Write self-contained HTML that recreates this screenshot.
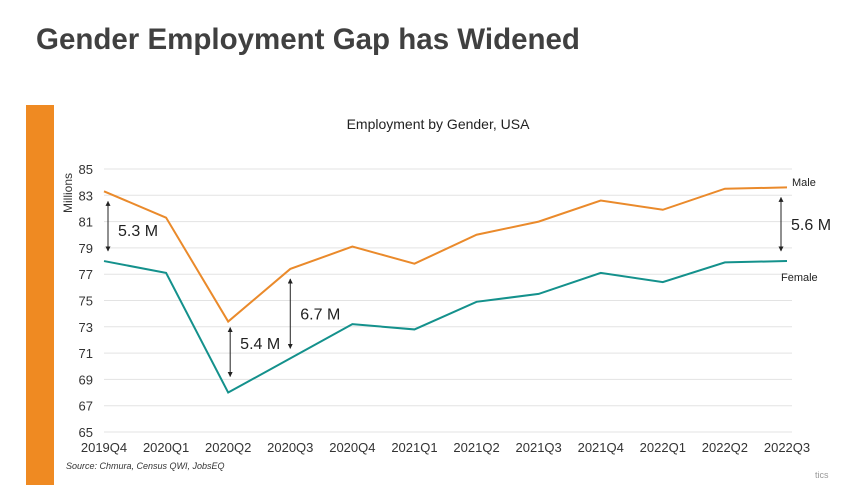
<!DOCTYPE html>
<html><head><meta charset="utf-8"><style>
body{margin:0;width:845px;height:485px;background:#fff;overflow:hidden;font-family:"Liberation Sans",sans-serif;position:relative}
#title{position:absolute;left:36px;top:23px;font-size:29.5px;font-weight:bold;color:#404040}
#bar{position:absolute;left:26px;top:105px;width:28px;height:380px;background:#ef8a22}
#src{position:absolute;left:66px;top:461px;font-size:9px;font-style:italic;color:#333}
#tics{position:absolute;left:815px;top:470px;font-size:9px;color:#999}
</style></head><body>
<div id="title">Gender Employment Gap has Widened</div>
<div id="bar"></div>
<div id="src">Source: Chmura, Census QWI, JobsEQ</div>
<div id="tics">tics</div>
<svg id="chart" width="845" height="485" style="position:absolute;left:0;top:0"></svg>
<script>
const categories=["2019Q4","2020Q1","2020Q2","2020Q3","2020Q4","2021Q1","2021Q2","2021Q3","2021Q4","2022Q1","2022Q2","2022Q3"];
const maleValues=[83.3,81.3,73.4,77.4,79.1,77.8,80.0,81.0,82.6,81.9,83.5,83.6];
const femaleValues=[78.0,77.1,68.0,70.6,73.2,72.8,74.9,75.5,77.1,76.4,77.9,78.0];
const yTicks=[65,67,69,71,73,75,77,79,81,83,85];
const gaps=[{i:0,label:"5.3 M"},{i:2,label:"5.4 M"},{i:3,label:"6.7 M"},{i:11,label:"5.6 M"}];
const svg=document.getElementById('chart');const NS="http://www.w3.org/2000/svg";
const x=i=>104+i*(787-104)/(categories.length-1);
const y=v=>432-(v-65)*(432-169)/20;
function mk(t,a,p){const e=document.createElementNS(NS,t);for(const k in a)e.setAttribute(k,a[k]);(p||svg).appendChild(e);return e;}
const defs=mk('defs',{});
const m=mk('marker',{id:'ah',viewBox:'0 0 10 10',refX:'9',refY:'5',markerWidth:'5',markerHeight:'5',orient:'auto-start-reverse'},defs);
mk('path',{d:'M0,0L10,5L0,10z',fill:'#222'},m);
let t=mk('text',{x:438,y:129,'font-size':14,'text-anchor':'middle',fill:'#222'});t.textContent="Employment by Gender, USA";

yTicks.forEach(v=>{const l=mk('line',{x1:104,x2:792,y1:y(v),y2:y(v),stroke:'#e3e3e3','stroke-width':1});

const tx=mk('text',{x:93,y:y(v)+5,'font-size':13,'text-anchor':'end',fill:'#333'});tx.textContent=v;
});
categories.forEach((c,i)=>{const tx=mk('text',{x:x(i),y:452,'font-size':13,'text-anchor':'middle',fill:'#333'});tx.textContent=c;
});
t=mk('text',{x:0,y:0,'font-size':12,'text-anchor':'middle',fill:'#333',transform:'translate(72,193) rotate(-90)'});t.textContent="Millions";

function line(vals,col,name){const p=mk('polyline',{points:vals.map((v,i)=>x(i)+','+y(v)).join(' '),fill:'none',stroke:col,'stroke-width':2});
}
line(maleValues,'#ea8a2b','male-line');line(femaleValues,'#14918c','female-line');
t=mk('text',{x:792,y:186,'font-size':11,fill:'#222'});t.textContent="Male";
t=mk('text',{x:781,y:281,'font-size':11,fill:'#222'});t.textContent="Female";
gaps.forEach(g=>{let ax=x(g.i)+(g.i===0?4:g.i===11?-6:g.i===2?2:0);
const m1=maleValues[g.i],f1=femaleValues[g.i];
const y1=y(m1)+(g.i===2?6:10),y2=y(f1)-(g.i===2?16:10);
const a=mk('line',{x1:ax,x2:ax,y1:y1,y2:y2,stroke:'#222','stroke-width':1,'marker-start':'url(#ah)','marker-end':'url(#ah)'});

const ly=g.i===2?349:g.i===0?236:(y(m1)+y(f1))/2+6;
const tx=mk('text',{x:ax+10,y:ly,'font-size':16,fill:'#222'});tx.textContent=g.label;
});
</script>
</body></html>
